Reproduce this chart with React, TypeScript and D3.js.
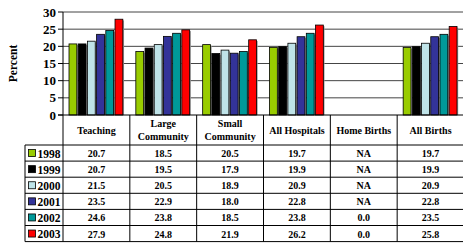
import React, { useEffect, useRef } from 'react';
import * as d3 from 'd3';

const categories = ['Teaching', 'Large Community', 'Small Community', 'All Hospitals', 'Home Births', 'All Births'];
const years = ['1998', '1999', '2000', '2001', '2002', '2003'];
const colors = ['#99cc00', '#000000', '#bfe3e8', '#333399', '#009999', '#ff0000'];
// values per year, one entry per category (null = NA)
const v1998 = [20.7, 18.5, 20.5, 19.7, null, 19.7];
const v1999 = [20.7, 19.5, 17.9, 19.9, null, 19.9];
const v2000 = [21.5, 20.5, 18.9, 20.9, null, 20.9];
const v2001 = [23.5, 22.9, 18.0, 22.8, null, 22.8];
const v2002 = [24.6, 23.8, 18.5, 23.8, 0.0, 23.5];
const v2003 = [27.9, 24.8, 21.9, 26.2, 0.0, 25.8];
const series = [v1998, v1999, v2000, v2001, v2002, v2003];
const yTicks = [0, 5, 10, 15, 20, 25, 30];

const App = () => {
  const ref = useRef<SVGSVGElement | null>(null);

  useEffect(() => {
    const svg = d3.select(ref.current);
    svg.selectAll('*').remove();
    const font = "'Liberation Serif', 'Times New Roman', serif";
    const left = 63, right = 464, top = 12, axisY = 115;
    const legendX = 25;
    const headerBottom = 145, rowH = 16.1;

    const x = d3.scaleBand().domain(categories).range([left, right]);
    const inner = d3.scaleBand().domain(years).range([6, x.bandwidth() - 7]).paddingInner(0.15);
    const y = d3.scaleLinear().domain([0, 30]).range([axisY, top]);

    const g = svg.append('g');

    // gridlines
    g.selectAll('.grid').data(yTicks.filter(d => d > 0)).enter().append('line')
      .attr('x1', left).attr('x2', right)
      .attr('y1', d => y(d)).attr('y2', d => y(d))
      .attr('stroke', '#444').attr('stroke-width', 1);

    // bars
    series.forEach((vals, si) => {
      const bars = g.append('g');
      const data = categories.map((c, ci) => ({ c, v: vals[ci] })).filter(d => d.v !== null && d.v > 0);
      bars.selectAll('.sh').data(data).enter().append('rect')
        .attr('x', d => x(d.c)! + inner(years[si])! + 1.2)
        .attr('y', d => y(d.v as number) + 1.2)
        .attr('width', inner.bandwidth())
        .attr('height', d => axisY - y(d.v as number) - 1.2)
        .attr('fill', '#999');
      bars.selectAll('.b').data(data).enter().append('rect')
        .attr('x', d => x(d.c)! + inner(years[si])!)
        .attr('y', d => y(d.v as number))
        .attr('width', inner.bandwidth())
        .attr('height', d => axisY - y(d.v as number))
        .attr('fill', colors[si])
        .attr('stroke', '#000').attr('stroke-width', 0.8);
    });

    // y axis
    g.append('line').attr('x1', left).attr('x2', left).attr('y1', top).attr('y2', axisY).attr('stroke', '#000');
    g.selectAll('.yt').data(yTicks).enter().append('line')
      .attr('x1', left - 5).attr('x2', left).attr('y1', d => y(d)).attr('y2', d => y(d)).attr('stroke', '#000');
    g.selectAll('.yl').data(yTicks).enter().append('text')
      .attr('x', left - 7).attr('y', d => y(d) + 4.5)
      .attr('text-anchor', 'end').attr('font-family', font).attr('font-weight', 'bold').attr('font-size', 13)
      .text(d => d);
    g.append('text')
      .attr('transform', `translate(17,${(top + axisY) / 2}) rotate(-90)`)
      .attr('text-anchor', 'middle').attr('font-family', font).attr('font-weight', 'bold').attr('font-size', 11.5)
      .text('Percent');

    // table
    const tableBottom = headerBottom + rowH * years.length;
    const line = (x1, y1, x2, y2) => g.append('line').attr('x1', x1).attr('y1', y1).attr('x2', x2).attr('y2', y2)
      .attr('stroke', '#000').attr('stroke-width', 1);
    line(left - 5, axisY, right, axisY);
    line(left, axisY, left, tableBottom);
    categories.forEach(c => line(x(c)! + x.bandwidth(), axisY, x(c)! + x.bandwidth(), tableBottom));
    line(legendX, headerBottom, legendX, tableBottom);
    d3.range(years.length + 1).forEach(i => line(legendX, headerBottom + i * rowH, right, headerBottom + i * rowH));

    // header labels
    categories.forEach(c => {
      const words = c.split(' ');
      const cx = x(c)! + x.bandwidth() / 2;
      const t = g.append('text').attr('text-anchor', 'middle').attr('font-family', font)
        .attr('font-weight', 'bold').attr('font-size', 10);
      if (c === 'Large Community' || c === 'Small Community') {
        t.append('tspan').attr('x', cx).attr('y', 127).text(words[0]);
        t.append('tspan').attr('x', cx).attr('y', 140).text(words[1]);
      } else {
        t.attr('x', cx).attr('y', 134).text(c);
      }
    });

    // rows
    years.forEach((yr, si) => {
      const ry = headerBottom + si * rowH;
      g.append('rect').attr('x', legendX + 3.5).attr('y', ry + rowH / 2 - 3.5).attr('width', 7).attr('height', 7)
        .attr('fill', colors[si]).attr('stroke', '#000').attr('stroke-width', 0.8);
      g.append('text').attr('x', legendX + 12.5).attr('y', ry + rowH / 2 + 4.5)
        .attr('font-family', font).attr('font-weight', 'bold').attr('font-size', 11.5).text(yr);
      categories.forEach((c, ci) => {
        const v = series[si][ci];
        g.append('text').attr('x', x(c)! + x.bandwidth() / 2).attr('y', ry + rowH / 2 + 4)
          .attr('text-anchor', 'middle').attr('font-family', font).attr('font-weight', 'bold').attr('font-size', 10)
          .text(v === null ? 'NA' : v.toFixed(1));
      });
    });
  }, []);

  return (
    <svg ref={ref} width={463} height={246} style={{ position: 'absolute', left: 0, top: 0, background: '#fff' }} />
  );
};

export default App;
